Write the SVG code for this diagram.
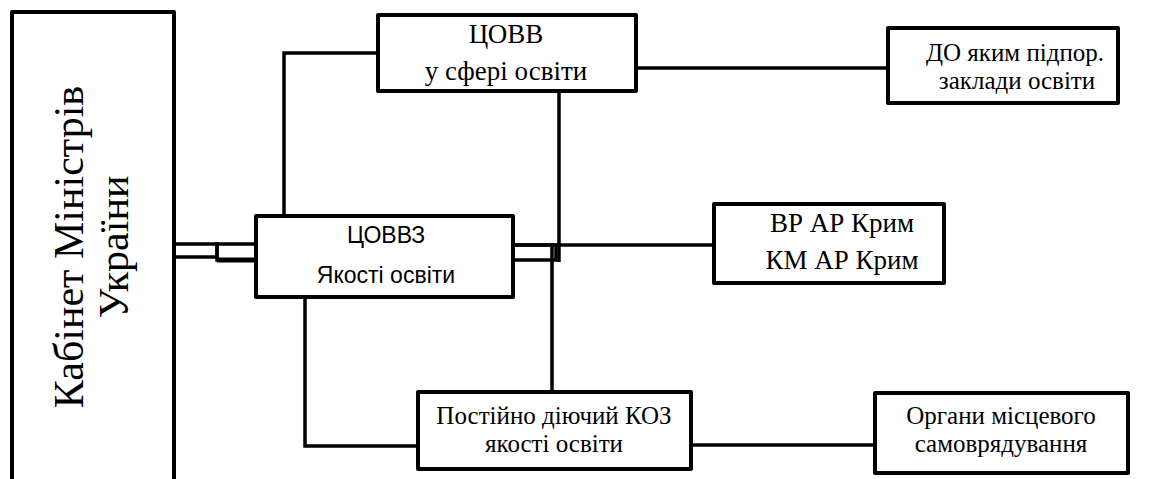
<svg xmlns="http://www.w3.org/2000/svg" width="1152" height="479" viewBox="0 0 1152 479">
<style>
.box{fill:#fff;stroke:#000;stroke-width:4;stroke-linejoin:round}
.ln{fill:none;stroke:#000;stroke-width:3.5}
text{fill:#000;text-anchor:middle}
.sf{font-family:'Liberation Serif','DejaVu Serif',serif}
</style>
<rect width="1152" height="479" fill="#fff"/>
<g id="connectors">
<polyline class="ln" points="378,53 284,53 284,216"/>
<line class="ln" x1="636" y1="68" x2="888" y2="68"/>
<line class="ln" x1="559" y1="91" x2="559" y2="262"/>
<line class="ln" x1="513" y1="245" x2="714" y2="245"/>
<rect class="ln" x="513" y="245" width="43" height="15"/>
<line class="ln" x1="552" y1="247" x2="552" y2="392"/>
<rect class="ln" x="174" y="244" width="43" height="13"/>
<rect class="ln" x="217" y="244" width="39" height="16"/>
<line class="ln" x1="217" y1="260" x2="256" y2="260" style="stroke-width:5"/>
<polyline class="ln" points="305,297 305,446 418,446"/>
<line class="ln" x1="691" y1="445" x2="875" y2="445"/>
</g>
<g id="kabinet" class="sf" font-size="42">
<rect class="box" x="12" y="12" width="162" height="480"/>
<text class="sf" transform="translate(83,247) rotate(-90)">Кабінет Міністрів</text>
<text class="sf" transform="translate(128,247) rotate(-90)">України</text>
</g>
<g id="tsovv" font-size="27">
<rect class="box" x="378" y="15" width="258" height="76"/>
<text class="sf" x="506" y="43">ЦОВВ</text>
<text class="sf" x="506" y="80">у сфері освіти</text>
</g>
<g id="do" font-size="25">
<rect class="box" x="888" y="28" width="230" height="75"/>
<text class="sf" x="1015" y="61">ДО яким підпор.</text>
<text class="sf" x="1017" y="89">заклади освіти</text>
</g>
<g id="tsovvz" font-family="'Liberation Sans', Arial, sans-serif" font-size="23">
<rect class="box" x="256" y="216" width="257" height="81"/>
<text x="386" y="243">ЦОВВЗ</text>
<text x="386" y="283">Якості освіти</text>
</g>
<g id="vr" font-size="27">
<rect class="box" x="714" y="204" width="230" height="79"/>
<text class="sf" x="842" y="232">ВР АР Крим</text>
<text class="sf" x="842" y="269">КМ АР Крим</text>
</g>
<g id="koz" font-size="25">
<rect class="box" x="418" y="392" width="273" height="77"/>
<text class="sf" x="554" y="424">Постійно діючий КОЗ</text>
<text class="sf" x="554" y="452">якості освіти</text>
</g>
<g id="organy" font-size="25">
<rect class="box" x="875" y="393" width="253" height="80"/>
<text class="sf" x="1001" y="424">Органи місцевого</text>
<text class="sf" x="1001" y="452">самоврядування</text>
</g>
</svg>
